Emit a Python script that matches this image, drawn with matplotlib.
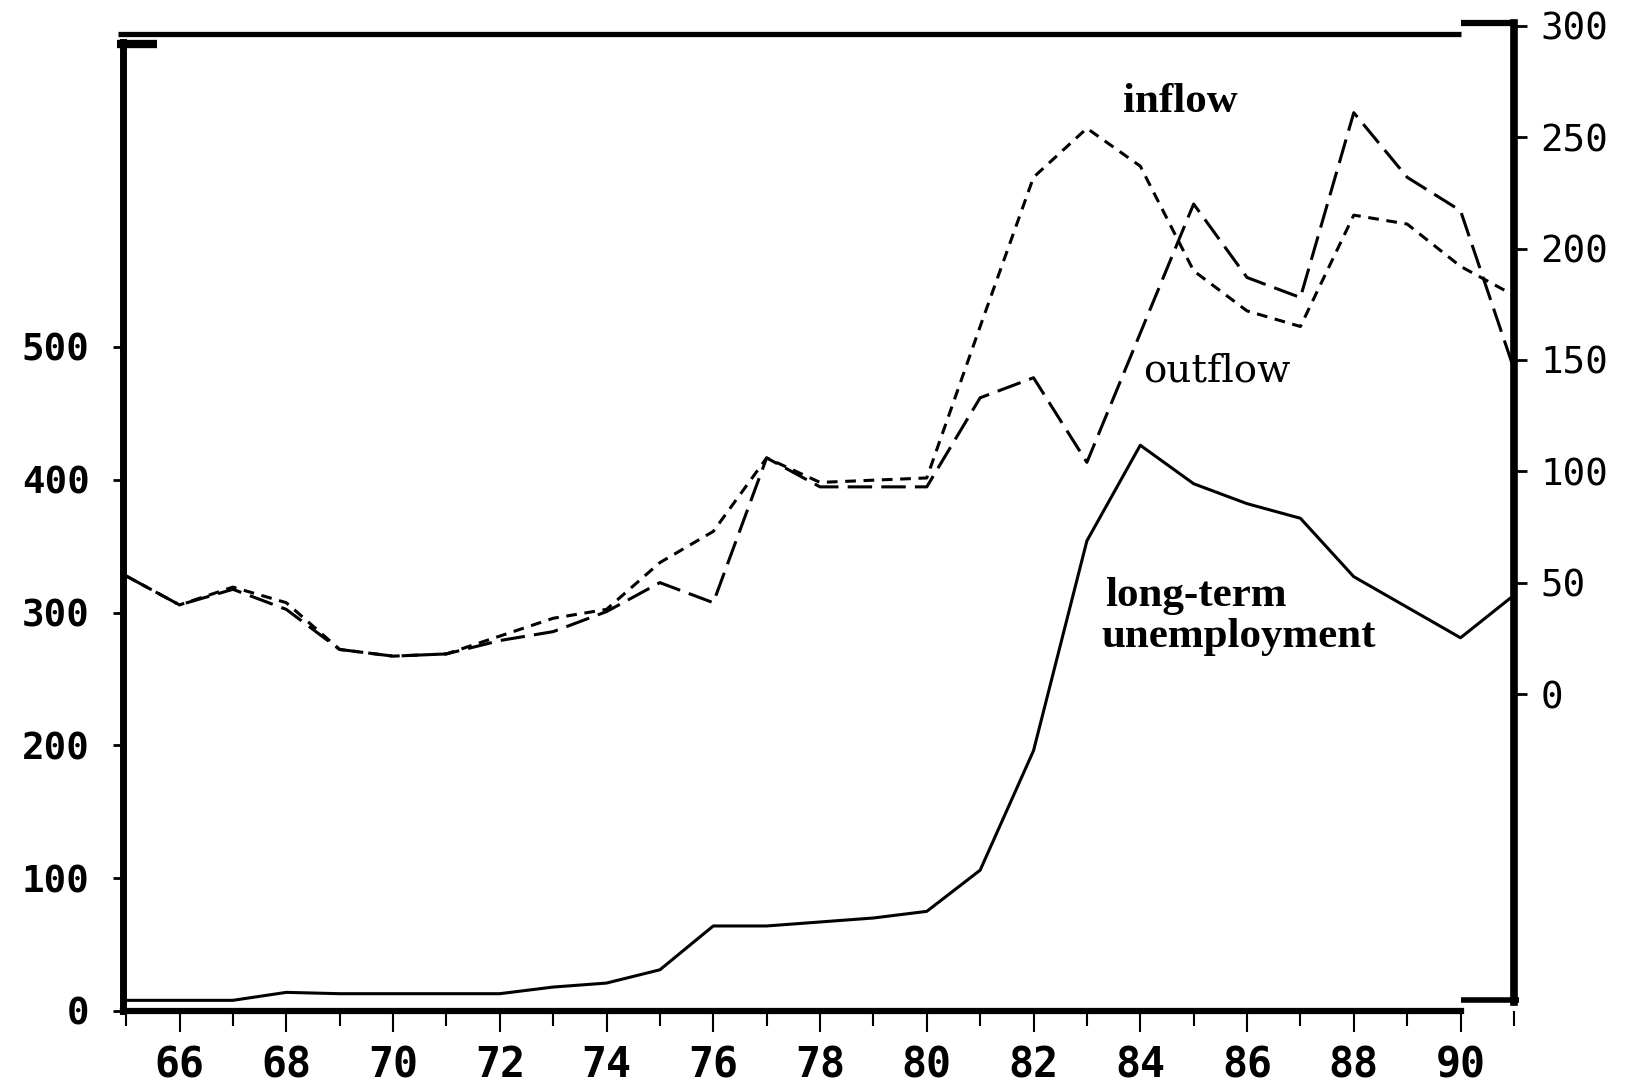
import matplotlib
matplotlib.use('Agg')
import matplotlib.pyplot as plt

# years 1965-1991
years = list(range(65, 92))

# long-term unemployment (left axis)
longterm = [8, 8, 8, 14, 13, 13, 13, 13, 18, 21, 31, 64, 64, 67, 70, 75,
            106, 196, 354, 426, 397, 382, 371, 327, 304, 281, 313]

# flows (right axis)
inflow = [53, 40, 48, 41, 20, 17, 18, 26, 34, 38, 59, 73, 106, 95, 96, 97,
          165, 232, 254, 237, 190, 172, 165, 215, 211, 192, 179]
outflow = [53, 40, 47, 38, 20, 17, 18, 24, 28, 37, 50, 41, 106, 93, 93, 93,
           133, 142, 104, 162, 220, 187, 178, 261, 232, 217, 146]

x_major = list(range(66, 91, 2))
x_minor = list(range(65, 92, 2))
left_ticks = [0, 100, 200, 300, 400, 500]
right_ticks = [0, 50, 100, 150, 200, 250, 300]

mono = 'DejaVu Sans Mono'

fig = plt.figure(figsize=(16.37, 10.86), dpi=100)
ax = fig.add_axes([0.0751, 0.0691, 0.8497, 0.9098])
ax2 = ax.twinx()

ax.set_xlim(64.94, 91)
ax.set_ylim(0, 744)
ax2.set_ylim(-142.3, 301.3)

# lines
ax.plot(years, longterm, color='black', lw=2.2, zorder=3)
ax2.plot(years, inflow, color='black', lw=2.2, linestyle=(0, (3.5, 2.5)))
ax2.plot(years, outflow, color='black', lw=2.2, linestyle=(0, (8, 3)))

# frame
ax.spines['top'].set_visible(False)
ax.spines['right'].set_visible(False)
ax.spines['left'].set_linewidth(5)
ax.spines['left'].set_bounds(0, 729.7)
ax.spines['bottom'].set_linewidth(4.5)
ax.spines['bottom'].set_bounds(64.94, 90)
for s in ['left', 'top', 'bottom']:
    ax2.spines[s].set_visible(False)
ax2.spines['right'].set_linewidth(5.5)
ax2.spines['right'].set_bounds(-138.3, 301.3)

tr = ax.get_xaxis_transform()
ax.plot([64.85, 90], [0.9889, 0.9889], transform=tr, color='black', lw=3.8,
        clip_on=False, solid_capstyle='butt')
ax.plot([90, 91.05], [1.0, 1.0], transform=tr, color='black', lw=4.5,
        clip_on=False, solid_capstyle='butt')
ax.plot([64.82, 65.57], [0.9787, 0.9787], transform=tr, color='black', lw=6,
        clip_on=False, solid_capstyle='butt')
ax.plot([90, 91.1], [0.0111, 0.0111], transform=tr, color='black', lw=4,
        clip_on=False, solid_capstyle='butt')

# ticks
ax.set_xticks(x_major)
ax.set_xticklabels([str(v) for v in x_major], fontfamily=mono,
                   fontweight='bold', fontsize=30)
ax.set_xticks(x_minor, minor=True)
ax.tick_params(axis='x', which='major', direction='out', length=15,
               width=1.5, pad=9)
ax.tick_params(axis='x', which='minor', direction='out', length=11,
               width=1.5)

ax.set_yticks(left_ticks)
ax.set_yticklabels([str(v) for v in left_ticks], fontfamily=mono,
                   fontweight='bold', fontsize=27)
ax.tick_params(axis='y', direction='out', length=7, width=2, pad=17)

ax2.set_yticks(right_ticks)
ax2.set_yticklabels([str(v) for v in right_ticks], fontfamily=mono,
                    fontsize=27)
ax2.tick_params(axis='y', direction='out', length=9, width=2, pad=10)

# labels
ax2.text(83.67, 261.5, 'inflow', fontfamily='Liberation Serif',
         fontweight='bold', fontsize=31, ha='left', va='baseline')
ax2.text(84.06, 140.5, 'outflow', fontfamily='DejaVu Serif',
         fontsize=28, ha='left', va='baseline')
ax.text(83.34, 305, 'long-term', fontfamily='Liberation Serif',
        fontweight='bold', fontsize=31, ha='left', va='baseline')
ax.text(83.28, 274, 'unemployment', fontfamily='Liberation Serif',
        fontweight='bold', fontsize=31, ha='left', va='baseline')

fig.savefig('out.png', dpi=100)
